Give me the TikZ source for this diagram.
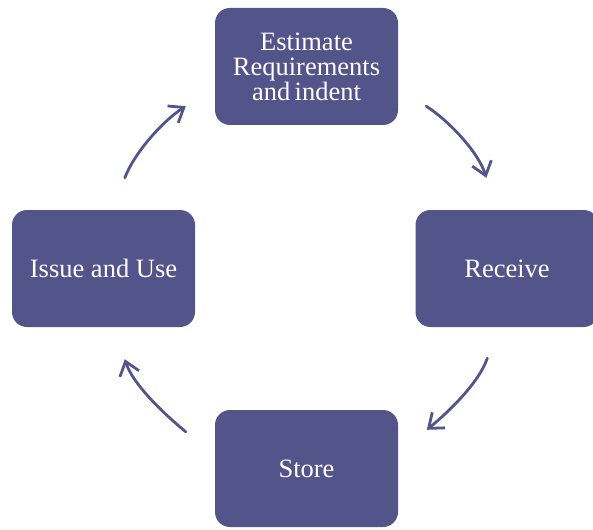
\documentclass[tikz,border=0pt]{standalone}
\usepackage{fontspec}
\setmainfont{Liberation Serif}
\usetikzlibrary{arrows.meta,positioning,calc}
\definecolor{cyclepurple}{HTML}{52548A}

\begin{document}
\begin{tikzpicture}[
  x=1pt, y=-1pt,
  stage/.style={fill=cyclepurple, draw=none, rounded corners=15pt, text=white,
    minimum width=183pt, minimum height=117pt, align=center,
    font=\fontsize{26.5}{25}\selectfont},
  cycarrow/.style={draw=cyclepurple, line width=2.8pt, line cap=round,
    -{Straight Barb[length=13pt,width=20pt,line width=2.8pt]}}
]
\useasboundingbox (0,0) rectangle (593,529);

% Stages of the cycle
\node[stage] (estimate) at (306.5,66.5) {Estimate\\Requirements\\and\,indent};
\node[stage] (receive)  at (507,268.5) {Receive};
\node[stage] (store)    at (306.5,468.5) {Store};
\node[stage] (issue)    at (103.5,268.5) {Issue and Use};

% Arrow ends
\coordinate (e1) at ($(estimate.south east)+(28,-19)$);
\coordinate (r0) at ($(receive.north west)+(71,-32)$);
\coordinate (r1) at ($(receive.south west)+(72,31)$);
\coordinate (s0) at ($(store.north west)+(212,20)$);
\coordinate (s1) at ($(store.north west)+(-29,22)$);
\coordinate (i0) at ($(issue.south west)+(113,32)$);
\coordinate (i1) at ($(issue.north west)+(113,-32)$);
\coordinate (e0) at ($(estimate.south west)+(-29,-19)$);

\draw[cycarrow] (e1) .. controls +(22,14) and +(-8,-26) .. (r0);
\draw[cycarrow] (r1) .. controls +(-8,24) and +(22,-18) .. (s0);
\draw[cycarrow] (s1) .. controls +(-22,-18) and +(8,25) .. (i0);
\draw[cycarrow] (i1) .. controls +(10,-26) and +(-22,14) .. (e0);
\end{tikzpicture}
\end{document}
